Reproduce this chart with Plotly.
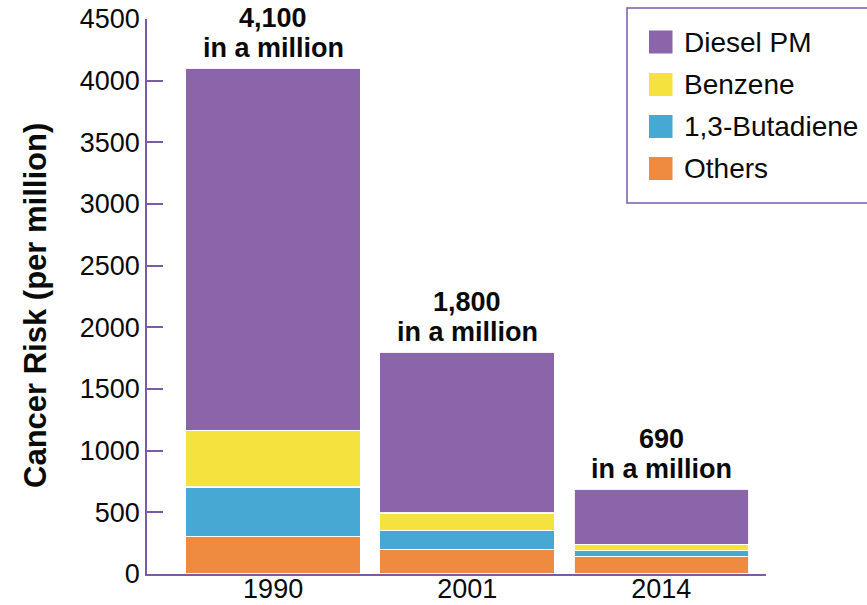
import plotly.graph_objects as go

# Cancer risk from air toxics (per million), by year
years = ["1990", "2001", "2014"]
totals = [4100, 1800, 690]
others = [305, 200, 143]
butadiene = [400, 155, 47]
benzene = [460, 140, 51]
diesel_pm = [t - o - b - z for t, o, b, z in zip(totals, others, butadiene, benzene)]

series_names = ["Others", "1,3-Butadiene", "Benzene", "Diesel PM"]
series_values = [others, butadiene, benzene, diesel_pm]
series_colors = ["#EF8A41", "#47A9D3", "#F5E23F", "#8B65AA"]

axis_purple = "#7B5BA7"
text_color = "#0A0A0A"
font_family = "Liberation Sans, Arial, Helvetica, sans-serif"

W, H = 867, 605
L, R, T, B = 147, 101, 19, 31
plot_w = W - L - R
plot_h = H - T - B


def px_x(px):
    return (px - L) / plot_w


def px_y(py):
    return (H - B - py) / plot_h


fig = go.Figure()
for name, vals, color in zip(series_names, series_values, series_colors):
    fig.add_trace(go.Bar(
        x=years, y=vals, name=name,
        marker=dict(color=color, line=dict(color="rgba(255,255,255,0.9)", width=1.2)),
        showlegend=False,
    ))

annotations = []

# Total labels above each stacked bar
for i, tot in enumerate(totals):
    annotations.append(dict(x=i, y=tot, xref="x", yref="y", text=f"<b>{tot:,}</b>",
                            showarrow=False, yanchor="middle", yshift=50,
                            font=dict(size=27, color=text_color, family=font_family)))
    annotations.append(dict(x=i, y=tot, xref="x", yref="y", text="<b>in a million</b>",
                            showarrow=False, yanchor="middle", yshift=20,
                            font=dict(size=27, color=text_color, family=font_family)))

# Y-axis title
annotations.append(dict(xref="paper", yref="paper", x=px_x(35), y=px_y(306),
                        xanchor="center", yanchor="middle", textangle=-90,
                        text="<b>Cancer Risk (per million)</b>", showarrow=False,
                        font=dict(size=31, color=text_color, family=font_family)))

# Legend box with colour swatches, top entry first
shapes = [dict(type="rect", xref="paper", yref="paper",
               x0=px_x(627), x1=px_x(880), y0=px_y(203), y1=px_y(8),
               line=dict(color=axis_purple, width=1.5), fillcolor="white", layer="below")]
row_centers = [42, 84.5, 126.5, 168.5]
for (name, color), cy in zip(list(zip(series_names, series_colors))[::-1], row_centers):
    shapes.append(dict(type="rect", xref="paper", yref="paper",
                       x0=px_x(649), x1=px_x(672.5), y0=px_y(cy + 11.5), y1=px_y(cy - 11.5),
                       line=dict(width=0), fillcolor=color))
    annotations.append(dict(xref="paper", yref="paper", x=px_x(682), y=px_y(cy),
                            xanchor="left", yanchor="middle", text=name, showarrow=False,
                            font=dict(size=28, color=text_color, family=font_family)))

fig.update_layout(
    width=W, height=H,
    margin=dict(l=L, r=R, t=T, b=B, autoexpand=False),
    barmode="stack", bargap=0.1,
    plot_bgcolor="white", paper_bgcolor="white",
    shapes=shapes,
    annotations=annotations,
    showlegend=False,
    xaxis=dict(type="category", range=[-0.65, 2.54], automargin=False,
               showline=True, linecolor=axis_purple, linewidth=1.5,
               ticks="", ticklabelstandoff=-10, showgrid=False, zeroline=False,
               layer="below traces",
               tickfont=dict(size=27, color=text_color, family=font_family)),
    yaxis=dict(range=[0, 4500], tickvals=list(range(0, 4501, 500)), automargin=False,
               showline=True, linecolor=axis_purple, linewidth=1.5,
               ticks="inside", ticklen=16, tickcolor=axis_purple, tickwidth=1.5,
               showgrid=False, zeroline=False,
               tickfont=dict(size=27, color=text_color, family=font_family)),
)

fig.write_html("out.html")
